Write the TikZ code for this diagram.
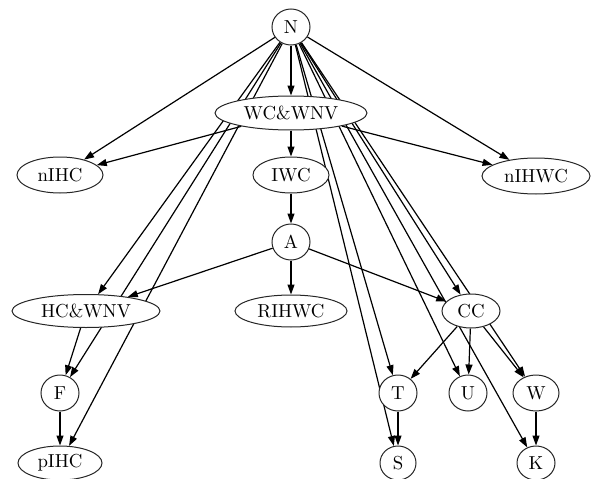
\documentclass[tikz,border=0pt]{standalone}
\usetikzlibrary{shapes.geometric,arrows.meta}
\pgfdeclarelayer{bg}
\pgfsetlayers{bg,main}
\newcommand{\lbl}[1]{\scalebox{1.88}{#1}}
\begin{document}
\begin{tikzpicture}[x=1pt,y=-1pt,
  ell/.style={draw=black!85, fill=white, ellipse, line width=1pt, inner sep=0pt, minimum height=34pt},
  circ/.style={draw=black!85, fill=white, ellipse, line width=1pt, inner sep=0pt, minimum width=38pt, minimum height=36pt},
  edge/.style={-{Triangle[length=10pt,width=7pt]}, line width=1.2pt}]
\useasboundingbox (0,0) rectangle (592,479);
\node[circ] (N) at (291,27) {\lbl{N}};
\node[ell, minimum width=152pt] (WC) at (291,113) {\lbl{WC\&WNV}};
\node[ell, minimum width=86pt, minimum height=36pt] (nIHC) at (60,175) {\lbl{nIHC}};
\node[ell, minimum width=76pt, minimum height=36pt] (IWC) at (291,175) {\lbl{IWC}};
\node[ell, minimum width=108pt, minimum height=36pt] (nIHWC) at (536,176) {\lbl{nIHWC}};
\node[circ] (A) at (291,242) {\lbl{A}};
\node[ell, minimum width=148pt, minimum height=33pt] (HC) at (86,311) {\lbl{HC\&WNV}};
\node[ell, minimum width=112pt, minimum height=32pt] (RIHWC) at (291,311) {\lbl{RIHWC}};
\node[ell, minimum width=58pt] (CC) at (471,311) {\lbl{CC}};
\node[circ] (F) at (60,393) {\lbl{F}};
\node[circ] (T) at (398,393) {\lbl{T}};
\node[circ] (U) at (468,393) {\lbl{U}};
\node[ell, minimum width=46pt, minimum height=36pt] (W) at (536,393) {\lbl{W}};
\node[ell, minimum width=84pt] (pIHC) at (60,463) {\lbl{pIHC}};
\node[circ, minimum width=36pt, minimum height=34pt] (S) at (398,463) {\lbl{S}};
\node[circ, minimum width=38pt, minimum height=34pt] (K) at (536,463) {\lbl{K}};
\begin{pgfonlayer}{bg}
\foreach \t in {WC,nIHC,nIHWC,HC,F,pIHC,S,T,U,K,CC,W}
  \draw[edge] (N) -- (\t);
\draw[edge] (WC) -- (nIHC);
\draw[edge] (WC) -- (nIHWC);
\draw[edge] (WC) -- (IWC);
\draw[edge] (IWC) -- (A);
\draw[edge] (A) -- (HC);
\draw[edge] (A) -- (RIHWC);
\draw[edge] (A) -- (CC);
\draw[edge] (HC) -- (F);
\draw[edge] (F) -- (pIHC);
\draw[edge] (CC) -- (T);
\draw[edge] (CC) -- (U);
\draw[edge] (CC) -- (W);
\draw[edge] (T) -- (S);
\draw[edge] (W) -- (K);
\end{pgfonlayer}
\end{tikzpicture}
\end{document}
